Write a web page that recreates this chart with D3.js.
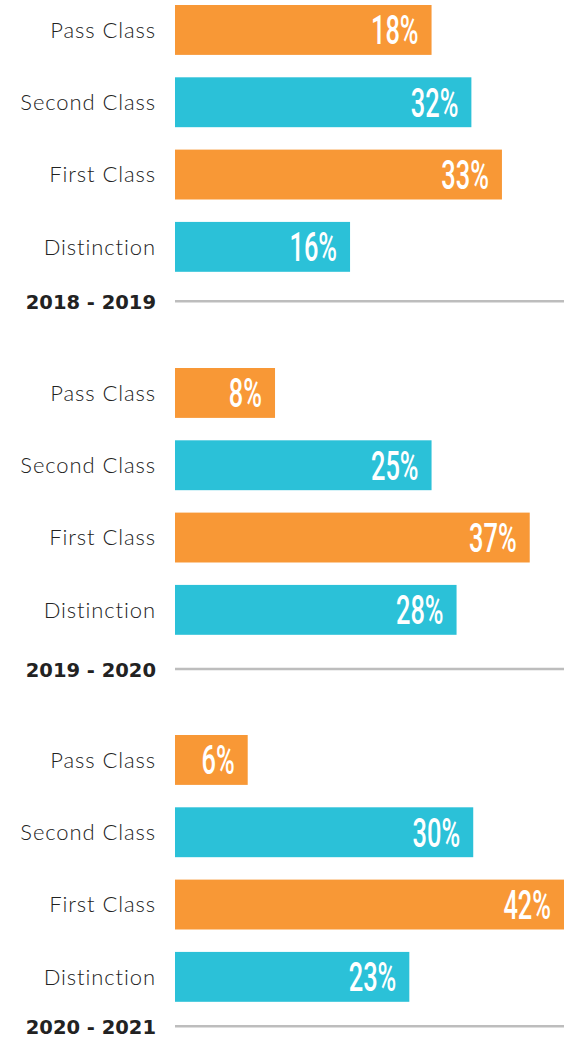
<!DOCTYPE html>
<meta charset="utf-8">
<style>
    body { margin: 0; background: #fff; }
    .cat { font: 300 22px Lato, sans-serif; fill: #222; text-anchor: end; letter-spacing: 0.9px; }
    .year { font: bold 19.5px "DejaVu Sans", sans-serif; fill: #222; text-anchor: end; }
    .val { font: 500 41px Roboto, sans-serif; fill: #fff; text-anchor: end; }
</style>
<div id="chart"></div>
<script src="https://d3js.org/d3.v7.min.js"></script>
<script>

    // categories and years
    var categories = ["Pass Class", "Second Class", "First Class", "Distinction"];
    var years = ["2018 - 2019", "2019 - 2020", "2020 - 2021"];

    // printed percentages
    var pct2018 = [18, 32, 33, 16];
    var pct2019 = [8, 25, 37, 28];
    var pct2020 = [6, 30, 42, 23];

    // bar lengths as drawn in the picture (same % units, the bars are not to scale)
    var len2018 = [27.7, 32.0, 35.3, 18.9];
    var len2019 = [10.8, 27.7, 38.3, 30.4];
    var len2020 = [7.85, 32.2, 42, 25.3];

    var colors = ["#f89836", "#2bc1d8", "#f89836", "#2bc1d8"];

    var sections = [
        { year: years[0], pct: pct2018, len: len2018 },
        { year: years[1], pct: pct2019, len: len2019 },
        { year: years[2], pct: pct2020, len: len2020 }
    ];

    var width = 564, height = 1037;
    var sectionTop = [5, 368, 735];
    var lineY = [301.3, 669, 1026.3];

    var svg = d3.select("#chart")
        .append("svg")
        .attr("width", width)
        .attr("height", height);

    var x = d3.scaleLinear()
        .domain([0, 42])
        .range([175, 564]);

    var y = d3.scaleBand()
        .domain(categories)
        .range([0, 266.8])
        .paddingInner(0.31)
        .paddingOuter(0);

    sections.forEach(function (s, si) {
        var g = svg.append("g")
            .attr("transform", "translate(0," + sectionTop[si] + ")");

        var rows = categories.map(function (c, i) {
            return { cat: c, pct: s.pct[i], len: s.len[i], color: colors[i] };
        });

        // bars
        g.selectAll(".bar")
            .data(rows)
            .enter()
            .append("rect")
            .attr("class", "bar")
            .attr("x", x(0))
            .attr("y", function (d) { return y(d.cat); })
            .attr("width", function (d) { return x(d.len) - x(0); })
            .attr("height", y.bandwidth())
            .attr("fill", function (d) { return d.color; });

        // category labels
        g.selectAll(".cat")
            .data(rows)
            .enter()
            .append("text")
            .attr("class", "cat")
            .attr("x", 156)
            .attr("y", function (d) { return y(d.cat) + y.bandwidth() / 2 + 7.8; })
            .text(function (d) { return d.cat; });

        // value labels, squeezed to look condensed
        g.selectAll(".val")
            .data(rows)
            .enter()
            .append("text")
            .attr("class", "val")
            .attr("transform", function (d) {
                return "translate(" + (x(d.len) - 13) + "," + (y(d.cat) + y.bandwidth() / 2 + 14.5) + ") scale(0.62,1)";
            })
            .text(function (d) { return d.pct + "%"; });

        // year rule
        svg.append("line")
            .attr("x1", x(0))
            .attr("x2", width)
            .attr("y1", lineY[si])
            .attr("y2", lineY[si])
            .attr("stroke", "#bdbdbd")
            .attr("stroke-width", 2.5);

        svg.append("text")
            .attr("class", "year")
            .attr("x", 156)
            .attr("y", lineY[si] + 8)
            .text(s.year);
    });

</script>
